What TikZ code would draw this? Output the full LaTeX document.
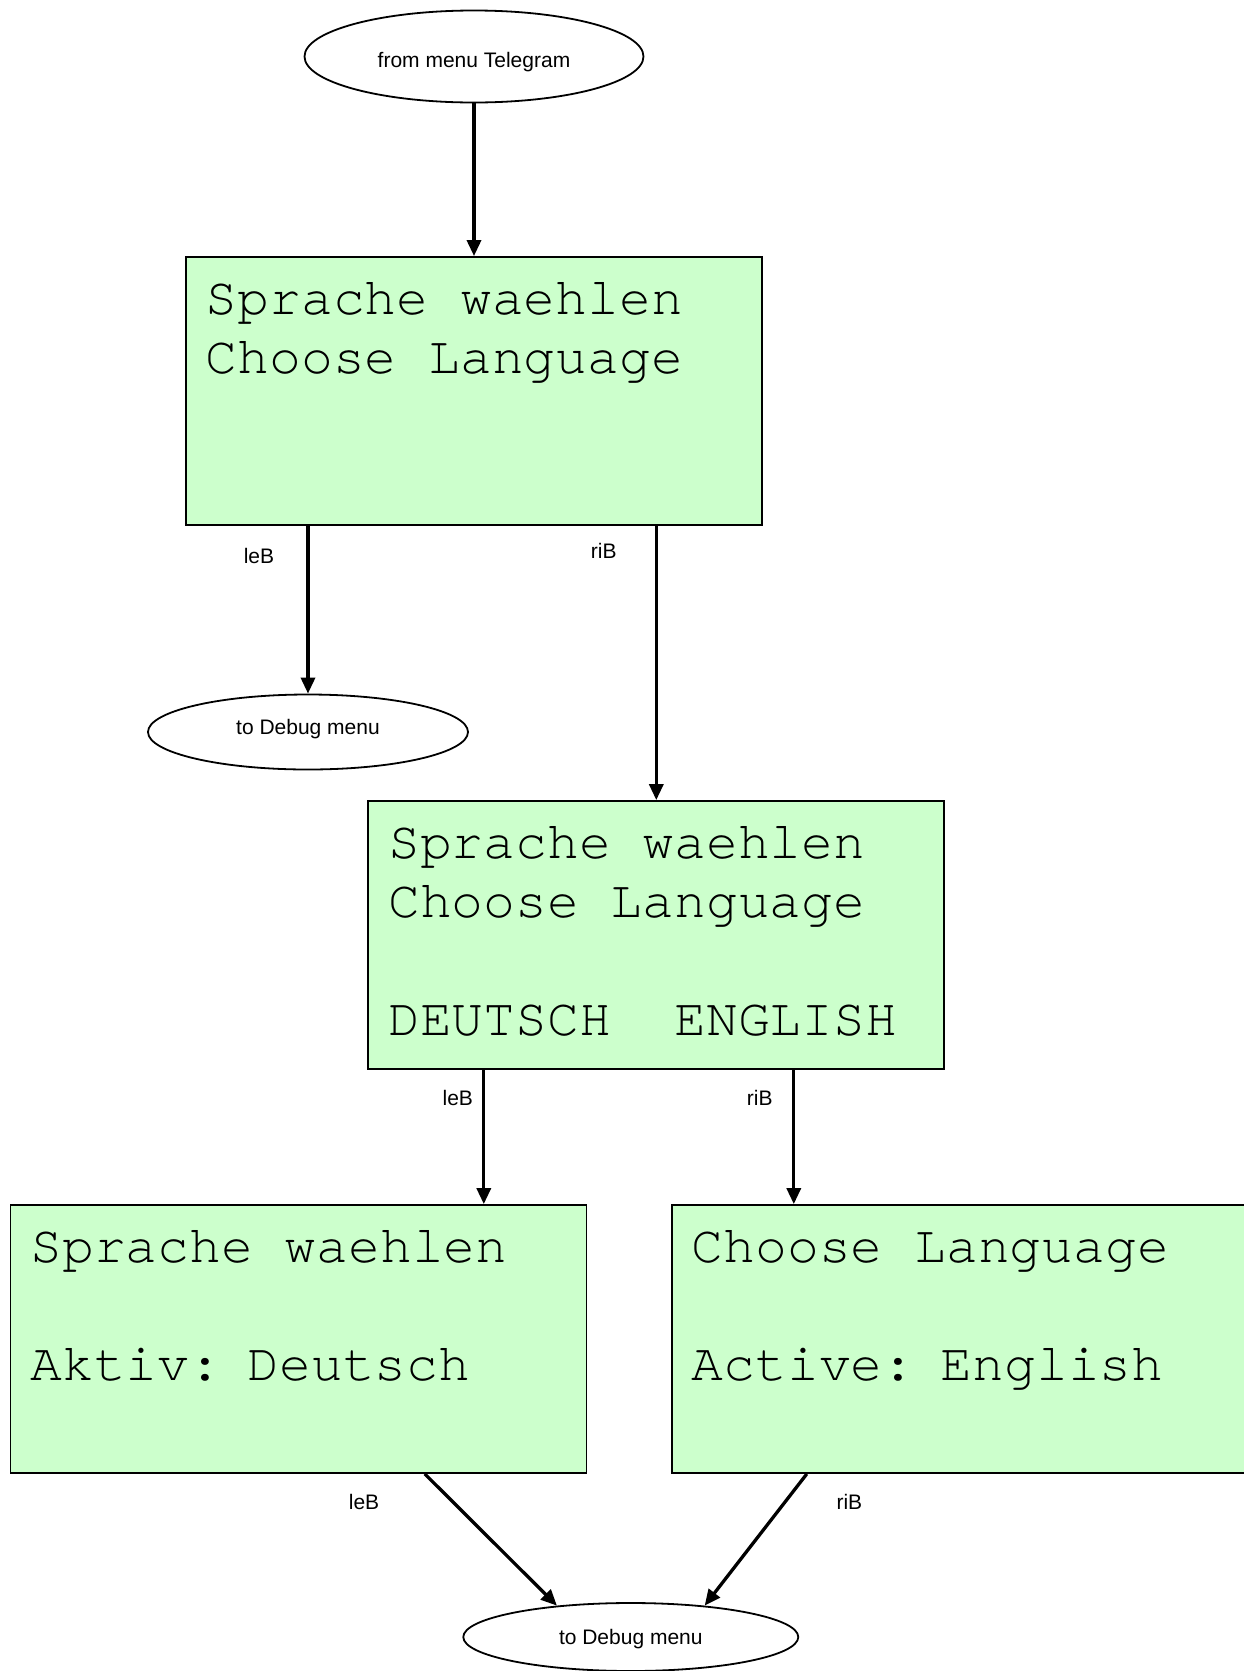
\documentclass[tikz,border=0pt]{standalone}
\usepackage{fontspec}
\setmainfont{Liberation Sans}
\newfontfamily\lcdfont{texgyrecursor-regular.otf}
\usepackage{tikz}
\usetikzlibrary{arrows.meta}
\usetikzlibrary{positioning}
\usetikzlibrary{shapes}

\definecolor{lcdgreen}{RGB}{204,255,204}

\begin{document}
\begin{tikzpicture}[on grid, >={Triangle[length=16pt,width=14pt]},
    lcd/.style={draw, line width=1.8pt, fill=lcdgreen, minimum width=576pt,
      minimum height=268pt, text width=536pt, inner xsep=20pt, inner ysep=0pt,
      align=left, font=\lcdfont\fontsize{53}{59}\selectfont,
      execute at begin node={\spaceskip=31.8pt\relax}},
    term/.style={draw, ellipse, line width=1.8pt, inner sep=0pt,
      font=\fontsize{21}{25}\selectfont},
    trans/.style={->, line width=3.3pt},
    lbl/.style={font=\fontsize{21}{25}\selectfont}]
      \useasboundingbox (-474pt,56.5pt) rectangle (770pt,-1614.5pt);
      \node[term, minimum width=339pt, minimum height=92pt, text height=27pt, text depth=4.4pt] (tele) at (0,0) {from menu Telegram};
      \node[lcd]  (box1) [below=334.5pt of tele]
        {\strut Sprache waehlen\\\strut Choose Language\\\strut\\\strut};
      \node[term, minimum width=320pt, minimum height=75pt, text height=15.3pt, text depth=10pt] (dbgA) [below left=341pt and 166pt of box1] {to Debug menu};
      \node[lcd]  (box2) [below right=544pt and 182.3pt of box1]
        {\strut Sprache waehlen\\\strut Choose Language\\\strut\\\strut DEUTSCH~~ENGLISH};
      \node[lcd]  (box3) [below left=404pt and 357.8pt of box2]
        {\strut Sprache waehlen\\\strut\\\strut Aktiv: Deutsch\\\strut};
      \node[lcd]  (box4) [below right=404pt and 303.5pt of box2]
        {\strut Choose Language\\\strut\\\strut Active: English\\\strut};
      \node[term, minimum width=335pt, minimum height=68pt, text height=19.5pt, text depth=4.4pt] (dbgB) [below left=702pt and 25.5pt of box2] {to Debug menu};
      \path[trans]
        (tele) edge (box1)
        (box1.south -| dbgA) edge node[lbl, pos=.18, xshift=-49pt] {leB} (dbgA)
        (box1.south -| box2) edge node[lbl, pos=.09, xshift=-52.6pt] {riB} (box2)
        ([xshift=-172.5pt]box2.south) edge node[lbl, pos=.21, xshift=-26pt] {leB} ([xshift=185.3pt]box3.north)
        ([xshift=137.5pt]box2.south) edge node[lbl, pos=.21, xshift=-34pt] {riB} ([xshift=-166pt]box4.north)
        ([xshift=126.3pt]box3.south) edge node[lbl, pos=.21, xshift=-88.5pt] {leB} (dbgB.157)
        ([xshift=-153pt]box4.south) edge node[lbl, pos=.21, xshift=64pt] {riB} (dbgB.23);
    \end{tikzpicture}
\end{document}
